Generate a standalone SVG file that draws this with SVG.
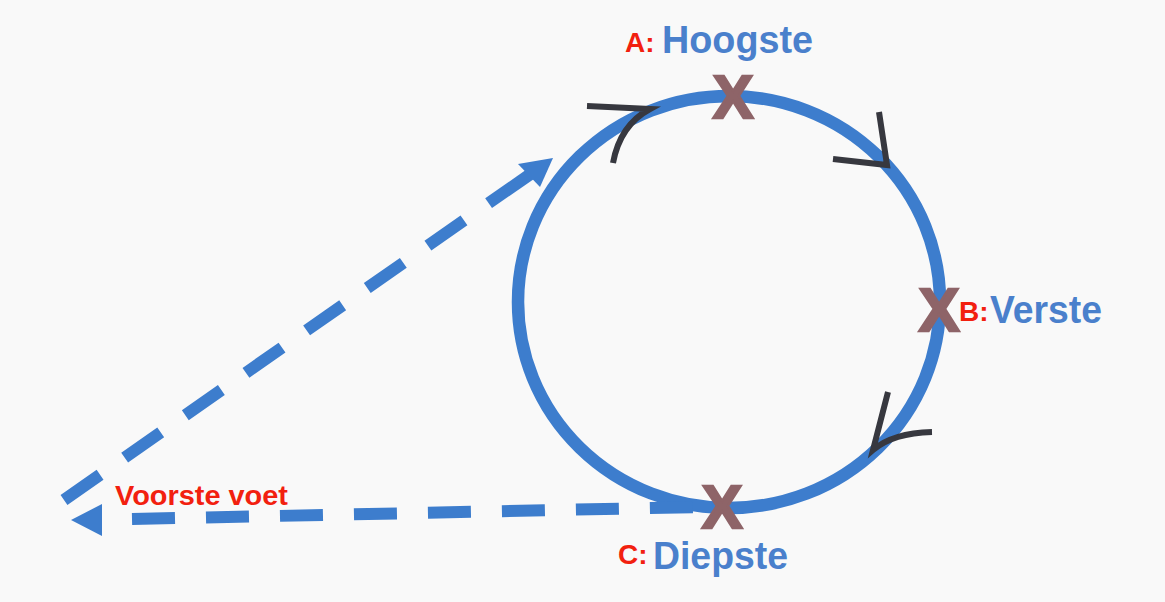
<svg xmlns="http://www.w3.org/2000/svg" width="1165" height="602" viewBox="0 0 1165 602">
  <style>
    .lbl { font-family: "Liberation Sans", Arial, sans-serif; font-weight: bold; }
    .red { fill: #f2200f; font-size: 28px; }
    .blue { fill: #4a80cc; font-size: 38px; }
    .x { fill: #8e6468; stroke: #8e6468; stroke-width: 2.5; font-size: 61px; font-family: "Liberation Sans", Arial, sans-serif; font-weight: bold; text-anchor: middle; }
    .dash { fill: none; stroke: #3d7dcd; stroke-width: 12; stroke-linecap: butt; }
    .chev { fill: none; stroke: #37383f; stroke-width: 6; stroke-linecap: butt; stroke-linejoin: miter; }
  </style>
  <rect width="1165" height="602" fill="#f9f9f9"/>

  <g id="loop">
    <ellipse cx="729" cy="302" rx="211" ry="206" fill="none" stroke="#3d7dcd" stroke-width="12.5"/>
  </g>

  <g id="connectors">
    <path class="dash" d="M64,500 L464,220.4" stroke-dasharray="44 30"/>
    <line class="dash" x1="488.6" y1="203.2" x2="532" y2="173"/>
    <polygon points="553,158 518,164 540,187" fill="#3d7dcd"/>
    <path class="dash" d="M132,519 L700,507" stroke-dasharray="43 31"/>
    <polygon points="71,520 102,504 102,536" fill="#3d7dcd"/>
  </g>

  <g id="direction-arrows">
    <path class="chev" d="M587,106 L650,109 Q620,125 613,163"/>
    <path class="chev" d="M879,112 L887,165 L833,159"/>
    <path class="chev" d="M888,392 L873,450 Q893,433 932,432"/>
  </g>

  <g id="node-A">
    <text class="x" x="733" y="118">X</text>
    <text class="lbl red" x="625" y="52">A:</text>
    <text class="lbl blue" x="662" y="53" textLength="151" lengthAdjust="spacingAndGlyphs">Hoogste</text>
  </g>

  <g id="node-B">
    <text class="x" x="939" y="331">X</text>
    <text class="lbl red" x="959" y="321">B:</text>
    <text class="lbl blue" x="990" y="323" textLength="112" lengthAdjust="spacingAndGlyphs">Verste</text>
  </g>

  <g id="node-C">
    <text class="x" x="722" y="528">X</text>
    <text class="lbl red" x="618" y="564">C:</text>
    <text class="lbl blue" x="653" y="569" textLength="135" lengthAdjust="spacingAndGlyphs">Diepste</text>
  </g>

  <g id="node-voet">
    <text class="lbl red" x="115" y="505" textLength="173" lengthAdjust="spacingAndGlyphs">Voorste voet</text>
  </g>
</svg>
